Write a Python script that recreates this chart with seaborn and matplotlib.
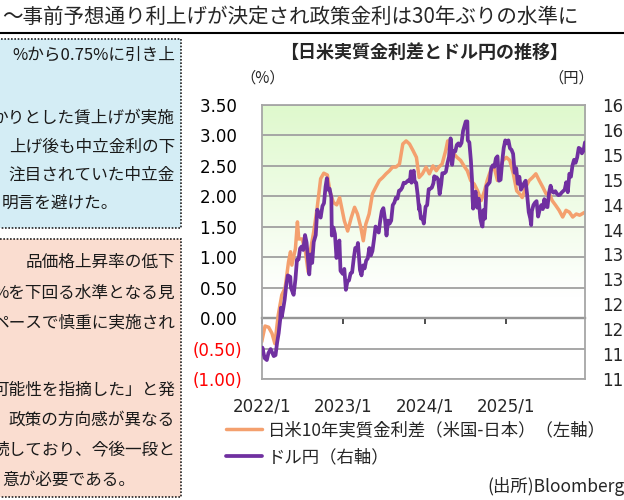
import numpy as np
import pandas as pd
import seaborn as sns
import matplotlib.pyplot as plt
from matplotlib.colors import LinearSegmentedColormap
from matplotlib.lines import Line2D
from matplotlib.patches import Rectangle

# 日米10年実質金利差（米国-日本）（%）
rate_dates = [
    "2022-01-01", "2022-01-16", "2022-02-01", "2022-02-16", "2022-03-01", "2022-03-16",
    "2022-04-01", "2022-04-16", "2022-05-01", "2022-05-10", "2022-05-16", "2022-06-01",
    "2022-06-10", "2022-06-16", "2022-07-01", "2022-07-16", "2022-07-28", "2022-08-06",
    "2022-08-22", "2022-09-06", "2022-09-22", "2022-10-06", "2022-10-22", "2022-11-03",
    "2022-11-18", "2022-12-03", "2022-12-16",
    "2023-01-06", "2023-01-21", "2023-02-06", "2023-02-21", "2023-03-06", "2023-03-21",
    "2023-04-01", "2023-04-12", "2023-04-27", "2023-05-12", "2023-05-27", "2023-06-12",
    "2023-06-27", "2023-07-12", "2023-07-27", "2023-08-10", "2023-08-25", "2023-09-10",
    "2023-09-25", "2023-10-10", "2023-10-25", "2023-11-10", "2023-11-25", "2023-12-07",
    "2023-12-22",
    "2024-01-07", "2024-01-22", "2024-02-07", "2024-02-22", "2024-03-04", "2024-03-19",
    "2024-04-04", "2024-04-13", "2024-04-28", "2024-05-10", "2024-05-25", "2024-06-10",
    "2024-06-25", "2024-07-10", "2024-07-25", "2024-08-10", "2024-08-25", "2024-09-10",
    "2024-09-25", "2024-10-07", "2024-10-22", "2024-11-07", "2024-11-22", "2024-12-01",
    "2024-12-16",
    "2025-01-01", "2025-01-16", "2025-02-01", "2025-02-16", "2025-03-01", "2025-03-13",
    "2025-03-28", "2025-04-13", "2025-04-28", "2025-05-13", "2025-05-28", "2025-06-13",
    "2025-06-28", "2025-07-13", "2025-07-25", "2025-08-10", "2025-08-25", "2025-09-10",
    "2025-09-25", "2025-10-10", "2025-10-25", "2025-11-10", "2025-11-25", "2025-12-19",
]
rate_diff = [
    -0.39, -0.13, -0.15, -0.25, -0.42, 0.05, 0.38, 0.50, 0.92, 1.09, 0.87, 1.14,
    1.58, 1.30, 1.30, 1.09, 0.76, 1.09, 1.42, 1.80, 2.29, 2.38, 2.35, 2.07, 1.90, 1.86, 1.98,
    1.60, 1.43, 1.65, 1.82, 1.71, 1.49, 1.27, 1.54, 1.71, 2.04, 2.15, 2.26, 2.31, 2.37,
    2.42, 2.48, 2.48, 2.53, 2.86, 2.91, 2.86, 2.75, 2.64, 2.31, 2.37,
    2.48, 2.37, 2.50, 2.42, 2.48, 2.53, 2.75, 2.91, 2.64, 2.70, 2.64, 2.59, 2.50, 2.42,
    2.26, 2.20, 2.09, 1.93, 2.09, 2.26, 2.42, 2.48, 2.26, 2.40, 2.59,
    2.64, 2.59, 2.37, 2.09, 2.04, 1.98, 2.15, 2.26, 2.31, 2.37, 2.26, 2.15, 2.04, 2.04,
    1.93, 1.85, 1.77, 1.66, 1.77, 1.74, 1.66, 1.71, 1.69, 1.74,
]

# ドル円（円）
fx_dates = [
    "2022-01-03", "2022-01-04", "2022-01-14", "2022-01-24", "2022-01-31", "2022-02-10",
    "2022-02-24", "2022-03-04", "2022-03-11", "2022-03-18", "2022-03-25", "2022-03-28",
    "2022-04-01", "2022-04-08", "2022-04-14", "2022-04-20", "2022-04-28", "2022-05-09",
    "2022-05-12", "2022-05-24", "2022-06-01", "2022-06-08", "2022-06-15", "2022-06-22",
    "2022-06-29", "2022-07-06", "2022-07-14", "2022-07-21", "2022-07-29", "2022-08-02",
    "2022-08-08", "2022-08-15", "2022-08-22", "2022-08-31", "2022-09-07", "2022-09-14",
    "2022-09-22", "2022-09-30", "2022-10-07", "2022-10-14", "2022-10-20", "2022-10-25",
    "2022-11-01", "2022-11-09", "2022-11-11", "2022-11-18", "2022-11-25", "2022-12-02",
    "2022-12-09", "2022-12-15", "2022-12-20", "2022-12-30",
    "2023-01-06", "2023-01-13", "2023-01-20", "2023-01-27", "2023-02-03", "2023-02-10",
    "2023-02-17", "2023-02-24", "2023-03-03", "2023-03-08", "2023-03-17", "2023-03-24",
    "2023-03-31", "2023-04-07", "2023-04-14", "2023-04-21", "2023-04-28", "2023-05-05",
    "2023-05-12", "2023-05-19", "2023-05-26", "2023-06-02", "2023-06-09", "2023-06-16",
    "2023-06-23", "2023-06-30", "2023-07-07", "2023-07-14", "2023-07-21", "2023-07-28",
    "2023-08-04", "2023-08-11", "2023-08-18", "2023-08-25", "2023-09-01", "2023-09-08",
    "2023-09-15", "2023-09-22", "2023-09-29", "2023-10-06", "2023-10-13", "2023-10-20",
    "2023-10-27", "2023-10-31", "2023-11-03", "2023-11-10", "2023-11-13", "2023-11-17",
    "2023-11-24", "2023-12-01", "2023-12-07", "2023-12-08", "2023-12-15", "2023-12-22",
    "2023-12-28",
    "2024-01-05", "2024-01-12", "2024-01-19", "2024-01-26", "2024-02-02", "2024-02-09",
    "2024-02-13", "2024-02-16", "2024-02-23", "2024-03-01", "2024-03-08", "2024-03-15",
    "2024-03-20", "2024-03-29", "2024-04-05", "2024-04-12", "2024-04-19", "2024-04-26",
    "2024-04-29", "2024-05-03", "2024-05-10", "2024-05-17", "2024-05-24", "2024-05-31",
    "2024-06-07", "2024-06-14", "2024-06-21", "2024-06-28", "2024-07-03", "2024-07-10",
    "2024-07-12", "2024-07-19", "2024-07-26", "2024-07-31", "2024-08-02", "2024-08-05",
    "2024-08-09", "2024-08-16", "2024-08-23", "2024-08-30", "2024-09-06", "2024-09-13",
    "2024-09-16", "2024-09-20", "2024-09-27", "2024-10-04", "2024-10-11", "2024-10-18",
    "2024-10-25", "2024-11-01", "2024-11-08", "2024-11-15", "2024-11-22", "2024-11-29",
    "2024-12-06", "2024-12-13", "2024-12-20", "2024-12-27",
    "2025-01-03", "2025-01-10", "2025-01-17", "2025-01-24", "2025-01-31", "2025-02-07",
    "2025-02-14", "2025-02-21", "2025-02-28", "2025-03-07", "2025-03-14", "2025-03-21",
    "2025-03-28", "2025-04-04", "2025-04-11", "2025-04-18", "2025-04-22", "2025-04-25",
    "2025-05-02", "2025-05-09", "2025-05-16", "2025-05-23", "2025-05-30", "2025-06-06",
    "2025-06-13", "2025-06-20", "2025-06-27", "2025-07-04", "2025-07-11", "2025-07-18",
    "2025-07-25", "2025-08-01", "2025-08-08", "2025-08-15", "2025-08-22", "2025-08-29",
    "2025-09-05", "2025-09-12", "2025-09-19", "2025-09-26", "2025-10-03", "2025-10-10",
    "2025-10-17", "2025-10-24", "2025-10-31", "2025-11-07", "2025-11-14", "2025-11-21",
    "2025-11-28", "2025-12-05", "2025-12-12", "2025-12-19",
]
usdjpy = [
    115.3, 116.3, 114.2, 113.8, 115.2, 116.0, 114.6, 114.8, 117.3, 119.2, 122.0, 124.3,
    122.5, 124.3, 126.0, 128.5, 130.8, 130.5, 128.3, 126.9, 130.0, 134.0, 134.0, 136.2,
    136.6, 135.9, 138.9, 137.4, 133.2, 131.0, 135.0, 133.3, 137.5, 138.9, 144.0, 143.0,
    142.4, 144.7, 145.3, 148.6, 150.3, 148.0, 148.2, 146.4, 138.8, 140.4, 139.1, 134.3,
    136.6, 137.8, 131.7, 131.1,
    132.1, 127.9, 129.6, 129.8, 131.2, 131.4, 134.1, 136.3, 135.9, 137.3, 131.9, 130.8,
    132.8, 132.2, 133.8, 134.2, 136.3, 134.8, 135.7, 138.0, 140.6, 139.9, 139.4, 141.8,
    143.7, 144.3, 142.1, 138.8, 141.8, 141.2, 141.8, 144.9, 145.4, 146.4, 146.2, 147.8,
    147.9, 148.4, 149.4, 149.3, 149.6, 149.9, 149.7, 151.7, 149.4, 151.5, 151.8, 149.6,
    149.4, 146.8, 144.0, 144.9, 142.2, 142.4, 141.2,
    144.6, 144.9, 148.1, 148.2, 148.4, 149.3, 150.7, 150.2, 150.5, 150.1, 147.1, 149.1,
    151.3, 151.3, 151.6, 153.3, 154.6, 158.3, 156.9, 153.0, 155.8, 155.7, 157.0, 157.3,
    156.8, 157.4, 159.8, 160.9, 161.7, 161.7, 157.9, 157.5, 153.8, 150.0, 146.5, 144.2,
    146.6, 147.6, 144.4, 146.2, 142.3, 140.8, 140.6, 143.9, 142.2, 148.7, 149.1, 149.5,
    152.3, 152.9, 152.6, 154.3, 154.7, 149.8, 150.0, 153.6, 156.4, 157.9,
    157.3, 157.9, 156.3, 156.0, 155.2, 151.4, 152.3, 149.2, 150.6, 148.0, 148.6, 149.3,
    149.8, 146.9, 143.5, 142.2, 140.9, 143.7, 144.9, 145.4, 145.7, 142.6, 144.0, 144.9,
    144.1, 146.1, 144.6, 144.5, 147.4, 148.8, 147.6, 147.4, 147.7, 147.2, 146.9, 147.0,
    147.4, 147.7, 148.0, 149.5, 147.5, 151.2, 150.6, 152.9, 154.0, 153.4, 154.5, 156.4,
    156.2, 155.3, 155.8, 157.5,
]

left_ticks = [-1.0, -0.5, 0.0, 0.5, 1.0, 1.5, 2.0, 2.5, 3.0, 3.5]
right_ticks = [110, 115, 120, 125, 130, 135, 140, 145, 150, 155, 160, 165]
year_ticks = ["2022-01-01", "2023-01-01", "2024-01-01", "2025-01-01"]
year_labels = ["2022/1", "2023/1", "2024/1", "2025/1"]
series_labels = ["日米10年実質金利差（米国-日本）（左軸）", "ドル円（右軸）"]

heading = "～事前予想通り利上げが決定され政策金利は30年ぶりの水準に"
chart_title = "【日米実質金利差とドル円の推移】"
# (文字列, y位置, 揃え)
blue_lines = [
    ("%から0.75%に引き上", 55, "r"),
    ("かりとした賃上げが実施", 118, "r"),
    ("上げ後も中立金利の下", 147, "r"),
    ("注目されていた中立金", 175, "r"),
    ("明言を避けた。", 203, "l"),
]
pink_lines = [
    ("品価格上昇率の低下", 262, "r"),
    ("%を下回る水準となる見", 293, "r"),
    ("ペースで慎重に実施され", 323, "r"),
    ("可能性を指摘した」と発", 390, "r"),
    ("政策の方向感が異なる", 420, "r"),
    ("続しており、今後一段と", 450, "r"),
    ("意が必要である。", 480, "l"),
]

ORANGE = "#F4A06E"
PURPLE = "#7030A0"
W, H = 624, 500

sns.set_style("white")
plt.rcParams['font.family'] = ['DejaVu Sans', 'Noto Sans CJK JP']
JP = ['Noto Sans CJK JP', 'DejaVu Sans']

fig = plt.figure(figsize=(W / 100, H / 100), dpi=100)
rect = [261.7 / W, 121 / H, 323.3 / W, 274 / H]

# 背景のグラデーション
bg = fig.add_axes(rect, zorder=0)
bg_cmap = LinearSegmentedColormap.from_list("bg", [(0, "white"), (0.3, "white"), (1, "#DFF9CD")])
bg.imshow(np.linspace(0, 1, 256).reshape(-1, 1), cmap=bg_cmap, origin="lower",
          extent=(0, 1, 0, 1), aspect="auto")
bg.axis("off")

ax = fig.add_axes(rect, zorder=1)
ax.set_facecolor("none")
sns.lineplot(x=pd.to_datetime(rate_dates), y=rate_diff, ax=ax, color=ORANGE, lw=2.5)
ax2 = ax.twinx()
sns.lineplot(x=pd.to_datetime(fx_dates), y=usdjpy, ax=ax2, color=PURPLE, lw=2.7)

ax.set_xlim(pd.Timestamp("2022-01-01"), pd.Timestamp("2025-12-19"))
ax.set_ylim(-1, 3.5)
ax2.set_ylim(110, 165)

ax.set_yticks(left_ticks)
ax.set_yticklabels([f"({abs(v):.2f})" if v < 0 else f"{v:.2f} " for v in left_ticks])
for lbl, v in zip(ax.get_yticklabels(), left_ticks):
    lbl.set_color("red" if v < 0 else "black")
ax2.set_yticks(right_ticks)
ax2.set_yticklabels([str(v) for v in right_ticks])
ax.set_xticks(pd.to_datetime(year_ticks))
ax.set_xticklabels(year_labels)

ax.tick_params(axis="x", length=0, pad=13, labelsize=12)
ax.tick_params(axis="y", length=0, pad=14, labelsize=12)
ax2.tick_params(axis="y", length=0, pad=12, labelsize=12)
ax.set_xlabel("")
ax.set_ylabel("")
ax2.set_ylabel("")
ax.grid(axis="y", color="#A0A0A0", lw=1.3)
ax.grid(axis="x", visible=False)
for s in ax.spines.values():
    s.set_color("#A6A6A6")
    s.set_linewidth(1.3)
for s in ax2.spines.values():
    s.set_visible(False)

# 0%の位置の横軸
sec = ax.secondary_xaxis(1 / 4.5)
sec.set_xticks(pd.to_datetime(year_ticks))
sec.tick_params(axis="x", direction="out", length=4.5, width=1.3, color="#404040",
                labelbottom=False, labeltop=False)
sec.spines["bottom"].set_color("#404040")
sec.spines["bottom"].set_linewidth(1.6)

fig.text(263 / W, 1 - 78 / H, "（%）", ha="center", va="center", fontsize=11, family=JP)
fig.text(571 / W, 1 - 78 / H, "（円）", ha="center", va="center", fontsize=11, family=JP)
fig.text(424 / W, 1 - 52 / H, chart_title, ha="center", va="center", fontsize=13,
         fontweight="bold", family=JP)

handles = [Line2D([], [], color=ORANGE, lw=2.5), Line2D([], [], color=PURPLE, lw=2.7)]
fig.legend(handles=handles, labels=series_labels, loc="upper left",
           bbox_to_anchor=(226 / W, 1 - 421 / H), frameon=False,
           prop={"family": JP, "size": 12.5}, handlelength=2.1, handletextpad=0.3,
           labelspacing=0.55, borderpad=0, borderaxespad=0)
fig.text(487 / W, 1 - 487 / H, "(出所)Bloomberg", va="center", fontsize=12.5, family=JP)

# 見出しと左側の説明ボックス
fig.text(2 / W, 1 - 17 / H, heading, va="center", fontsize=14.8, family=JP)
fig.add_artist(Line2D([0, 1], [1 - 33 / H, 1 - 33 / H], transform=fig.transFigure,
                      color="black", lw=1.5))
for top, bottom, fc in [(39, 228, "#D4EDF5"), (239, 497, "#FADDD0")]:
    fig.add_artist(Rectangle((-5 / W, 1 - bottom / H), 186 / W, (bottom - top) / H,
                             transform=fig.transFigure, facecolor=fc, edgecolor="#222222",
                             ls=(0, (1, 1)), lw=1.2))
for txt, y, al in blue_lines + pink_lines:
    if al == "r":
        fig.text(175 / W, 1 - y / H, txt, ha="right", va="center", fontsize=12,
                 family=JP, color="#1A1A1A")
    else:
        fig.text(2 / W, 1 - y / H, txt, ha="left", va="center", fontsize=12,
                 family=JP, color="#1A1A1A")

plt.savefig("out.png", dpi=100)
